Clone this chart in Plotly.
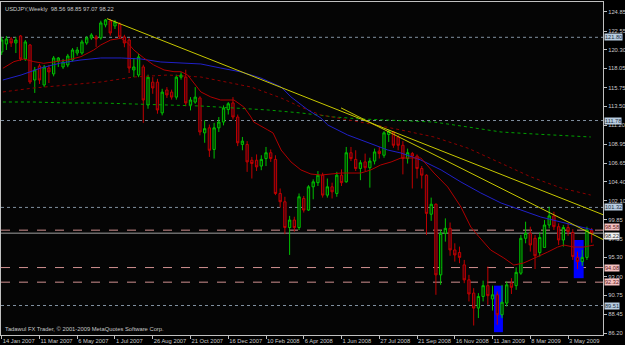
import plotly.graph_objects as go

# ---------------- data (weekly USDJPY, week index 0 = 14 Jan 2007) ----------------
weeks = list(range(126))
opens = [120.03,121.0,121.6,121.12,121.96,119.19,120.88,116.66,118.35,116.06,
         118.1,117.39,118.95,118.23,118.47,119.07,119.91,119.91,121.12,121.72,
         121.84,121.72,123.29,123.77,123.17,123.4,121.84,121.48,117.87,117.26,
         118.23,113.65,116.4,116.4,112.7,115.46,115.2,114.6,117.0,117.0,
         113.65,114.0,114.5,110.3,110.9,108.3,110.9,111.6,113.1,113.9,
         112.2,108.9,108.9,107.0,107.0,106.3,107.2,107.9,107.1,103.0,
         102.0,98.9,99.8,98.9,102.4,101.0,103.8,104.3,105.2,102.8,
         103.8,103.0,105.2,104.4,107.9,107.1,106.0,106.8,106.1,106.9,
         108.1,107.6,110.1,110.4,109.8,108.8,107.2,107.8,107.5,106.0,
         105.2,100.5,101.7,93.2,98.2,98.8,96.2,95.9,94.4,92.6,
         91.0,89.2,90.6,91.9,90.3,90.8,88.4,89.8,92.2,91.9,
         93.4,97.6,98.2,97.6,95.9,96.5,99.2,100.3,99.0,97.4,
         98.9,98.3,95.3,94.8,95.3,98.56]
highs = [121.84,121.96,121.84,121.84,122.08,121.48,121.0,118.23,118.6,118.47,
         118.47,119.55,119.43,119.2,119.8,120.5,120.64,121.5,121.96,122.3,
         122.08,123.8,124.0,124.0,123.9,123.6,122.1,121.7,119.3,119.8,
         118.5,117.3,117.0,116.8,115.6,115.8,115.5,117.3,117.6,117.9,
         114.6,115.8,114.7,111.8,111.3,111.5,112.2,113.6,114.0,114.6,
         112.5,109.8,109.3,107.4,107.7,107.6,108.6,108.3,107.6,103.6,
         102.6,100.3,100.2,103.0,102.7,104.0,104.7,105.7,105.5,104.8,
         104.3,105.6,105.9,108.6,108.6,108.2,107.0,107.8,107.3,108.4,
         108.6,110.5,110.67,110.5,110.0,109.3,108.4,108.0,107.7,106.3,
         105.3,102.5,101.8,98.6,100.0,99.5,97.0,96.6,95.0,93.2,
         91.6,91.0,92.5,94.2,91.9,91.2,92.0,92.4,92.8,94.1,
         98.0,99.6,99.0,98.0,98.3,99.8,101.4,100.8,99.4,99.2,
         99.4,98.7,96.0,96.2,99.0,98.85]
lows = [119.67,120.27,120.64,119.91,118.95,118.95,116.18,115.1,116.18,115.8,
        116.3,117.1,118.23,117.99,118.2,118.9,119.6,119.7,120.9,121.5,
        120.64,121.5,123.0,122.0,122.8,121.6,120.6,117.5,117.0,117.0,
        111.5,113.2,115.0,112.6,112.4,114.5,114.3,114.3,116.7,113.5,
        113.0,113.8,110.0,109.1,107.4,107.2,110.4,111.2,112.5,111.9,
        108.7,108.2,105.6,104.8,105.7,105.8,106.3,106.8,102.8,101.3,
        98.1,95.6,98.4,98.6,100.7,100.9,102.3,103.9,102.5,102.5,
        102.4,102.6,103.9,104.3,106.9,105.7,104.6,105.7,103.7,106.5,
        107.2,107.3,109.2,108.5,108.2,105.3,106.6,103.6,104.8,103.6,
        98.0,99.7,90.8,92.0,97.2,95.5,94.8,94.6,92.2,90.0,
        87.1,88.0,90.0,89.6,88.9,87.2,88.0,89.4,90.9,91.4,
        93.2,97.0,96.0,93.9,95.4,96.5,98.8,98.6,96.8,96.6,
        97.9,95.0,93.9,94.3,95.0,97.07]
closes = [121.48,121.6,121.12,121.48,119.19,121.24,116.42,117.87,116.66,118.23,
          117.63,119.31,119.31,118.83,119.55,120.27,120.27,121.24,121.72,122.08,
          121.6,123.53,123.89,122.32,123.65,121.84,121.12,118.1,118.23,119.43,
          114.25,117.0,115.7,113.05,115.2,114.86,114.6,117.0,117.26,113.9,
          114.25,114.6,110.4,110.8,108.2,110.9,111.6,113.3,113.8,112.2,
          109.1,109.3,106.8,106.6,106.2,107.1,107.9,107.2,103.0,102.0,
          98.9,99.8,98.9,102.6,101.0,103.8,104.4,105.2,102.8,103.8,
          103.2,105.2,104.3,107.9,107.2,106.0,106.7,106.1,106.9,108.0,
          107.8,110.3,110.5,108.8,108.8,107.2,107.9,107.5,106.0,105.2,
          100.6,101.7,93.2,98.2,98.8,96.2,95.6,95.3,92.6,90.9,
          89.2,90.6,91.9,90.7,90.8,88.4,89.9,92.0,91.7,93.5,
          97.6,98.2,96.8,95.5,97.7,99.2,100.3,99.0,97.4,98.9,
          98.4,95.4,94.8,95.3,98.6,98.22]

# moving averages (week index, price)
ma_red_x = [0.25,2.6,4.7,6.8,8.9,11.1,14,16.8,19.5,21,23.1,25.3,26.7,28,30.1,32.2,34.4,36.5,38,39.4,
            40.7,42.2,44.3,46.4,49.2,51.3,52.8,53.4,56.4,57.5,59.2,61.3,63.4,65.5,67.6,71.9,76.1,78.2,
            80.3,82.5,84.6,88.8,91.6,94.5,97.3,99.4,101.1,103.6,106.4,108.5,110.6,113.6,115.7,117.8,
            119.1,121.2,123.3,125.5]
ma_red_y = [118.07,118.87,119.19,118.87,118.67,118.87,119.07,119.47,120.27,120.88,121.48,121.68,121.12,
            120.27,119.31,118.47,117.87,117.66,117.66,117.26,116.3,115.22,114.62,114.25,114.25,113.41,
            112.21,111.6,110.64,110.28,108.23,106.79,105.83,105.34,105.22,105.46,105.46,105.83,106.43,
            106.79,107.27,107.27,105.46,103.78,101.37,98.96,97.8,96.19,95.23,94.38,94.63,95.35,95.95,
            96.55,96.79,96.55,96.55,96.79]
ma_blue_x = [0.25,4.1,8.3,12.5,16.8,21,25.3,29.5,33.7,38,42.2,46.4,50.7,54.9,59.2,61.3,64.9,67.6,69.1,
             73.3,77.6,81.8,84.6,88.8,93.1,97.3,101.5,105.8,110,114.2,118.5,122.7,125.3]
ma_blue_y = [116.66,117.26,118.1,118.71,119.07,119.31,119.31,119.19,118.83,118.71,118.59,118.1,117.63,
             116.9,115.82,114.62,113.05,112.09,111.24,110.04,109.08,108.23,107.87,107.03,105.83,104.38,
             103.06,101.85,101.01,100.17,99.56,98.96,98.6]
ma_maroon_x = [0.25,6.8,14,21,28,35.2,42.2,48.6,52.8,59.2,63.4,67.6,72.5,78.2,84.6,91.6,98.8,105.8,
               112.1,118.5,124.8]
ma_maroon_y = [115.22,115.7,116.06,116.42,117.02,117.26,117.02,116.3,115.82,114.49,113.41,112.45,111.97,
               111.36,110.64,109.8,108.45,106.6,105.0,103.66,102.81]
ma_green_x = [0.25,6.8,14,21,28,35.2,42.2,49.2,56.4,63.4,70.4,76.1,84.6,91.6,98.8,105.8,112.8,120,124.8]
ma_green_y = [114.01,114.01,113.89,113.89,113.77,113.65,113.53,113.29,113.05,112.69,112.21,111.97,111.73,
              111.6,111.0,110.4,110.16,109.92,109.8]

# trend lines (week index, price)
trend1_x = [22.3, 127.6]
trend1_y = [124.05, 100.4]
trend2_x = [71.9, 127.6]
trend2_y = [113.3, 97.4]

# horizontal levels
grey_levels = [121.80, 111.78, 101.32, 89.51]
pink_levels = [98.58, 94.08, 92.32]
bid_level = 98.22

# blue rectangles (week index / price)
rect_x0 = [104.3, 121.2]
rect_x1 = [106.2, 123.3]
rect_y0 = [86.3, 92.8]
rect_y1 = [91.9, 97.4]

y_ticks = [124.85,122.55,120.30,118.05,115.75,113.50,111.20,108.95,106.65,104.40,102.10,
           99.85,97.55,95.30,93.00,90.75,88.45,86.20]
x_tick_weeks = [0,8,16,24,32,40,48,56,64,72,80,88,96,104,112,120]
x_tick_labels = ["14 Jan 2007","11 Mar 2007","6 May 2007","1 Jul 2007","26 Aug 2007","21 Oct 2007",
                 "16 Dec 2007","10 Feb 2008","6 Apr 2008","1 Jun 2008","27 Jul 2008","21 Sep 2008",
                 "16 Nov 2008","11 Jan 2009","8 Mar 2009","3 May 2009"]

FONT = "Liberation Sans"
FG = "#c8c8c8"

fig = go.Figure()

fig.add_trace(go.Scatter(x=ma_green_x, y=ma_green_y, mode="lines",
                         line=dict(color="#00a000", width=1, dash="dot"), hoverinfo="skip"))
fig.add_trace(go.Scatter(x=ma_maroon_x, y=ma_maroon_y, mode="lines",
                         line=dict(color="#8b0000", width=1, dash="dot"), hoverinfo="skip"))
fig.add_trace(go.Scatter(x=ma_blue_x, y=ma_blue_y, mode="lines",
                         line=dict(color="#2020c8", width=1), hoverinfo="skip"))
fig.add_trace(go.Scatter(x=ma_red_x, y=ma_red_y, mode="lines",
                         line=dict(color="#b00000", width=1), hoverinfo="skip"))

fig.add_trace(go.Candlestick(
    x=weeks, open=opens, high=highs, low=lows, close=closes,
    increasing=dict(line=dict(color="#00c000", width=1), fillcolor="#003000"),
    decreasing=dict(line=dict(color="#c00000", width=1), fillcolor="#400010"),
    whiskerwidth=0, hoverinfo="skip"))

fig.add_trace(go.Scatter(x=trend1_x, y=trend1_y, mode="lines",
                         line=dict(color="#c8c800", width=1), hoverinfo="skip"))
fig.add_trace(go.Scatter(x=trend2_x, y=trend2_y, mode="lines",
                         line=dict(color="#c8c800", width=1), hoverinfo="skip"))

shapes = []
for a, b, c, d in zip(rect_x0, rect_x1, rect_y0, rect_y1):
    shapes.append(dict(type="rect", xref="x", yref="y", x0=a, x1=b, y0=c, y1=d,
                       fillcolor="#0000ff", line=dict(width=0), layer="below"))
for lv in grey_levels:
    shapes.append(dict(type="line", xref="paper", yref="y", x0=0, x1=1, y0=lv, y1=lv,
                       line=dict(color="#8090a0", width=1, dash="dot"), layer="below"))
for lv in pink_levels:
    shapes.append(dict(type="line", xref="paper", yref="y", x0=0, x1=1, y0=lv, y1=lv,
                       line=dict(color="#d09090", width=1, dash="dash"), layer="below"))
shapes.append(dict(type="line", xref="paper", yref="y", x0=0, x1=1, y0=bid_level, y1=bid_level,
                   line=dict(color="#a0a0a0", width=1), layer="below"))

annotations = []
for lv in grey_levels:
    annotations.append(dict(xref="paper", yref="y", x=1, y=lv, xanchor="left", yanchor="middle",
                            xshift=1, text=f"{lv:.2f}", showarrow=False, bgcolor="#b8cce0",
                            font=dict(family=FONT, size=5.6, color="#203040"), borderpad=0))
for lv in pink_levels:
    annotations.append(dict(xref="paper", yref="y", x=1, y=lv, xanchor="left",
                            yanchor="bottom" if lv == pink_levels[0] else "middle",
                            yshift=-1 if lv == pink_levels[0] else 0,
                            xshift=1, text=f"{lv:.2f}", showarrow=False, bgcolor="#f4c0c0",
                            font=dict(family=FONT, size=5.6, color="#602020"), borderpad=0))
annotations.append(dict(xref="paper", yref="y", x=1, y=bid_level, xanchor="left", yanchor="top",
                        xshift=1, yshift=1, text=f"{bid_level:.2f}", showarrow=False, bgcolor="#f0f0f0",
                        font=dict(family=FONT, size=5.6, color="#303030"), borderpad=0))
annotations.append(dict(xref="paper", yref="paper", x=0, y=1, xanchor="left", yanchor="top",
                        xshift=2, yshift=-2,
                        text="USDJPY,Weekly  98.56 98.85 97.07 98.22", showarrow=False,
                        font=dict(family=FONT, size=5.8, color=FG)))
annotations.append(dict(xref="paper", yref="paper", x=0, y=0, xanchor="left", yanchor="bottom",
                        xshift=2, yshift=1,
                        text="Tadawul FX Trader, \u00a9 2001-2009 MetaQuotes Software Corp.",
                        showarrow=False, font=dict(family=FONT, size=5.8, color=FG)))

fig.update_layout(
    width=625, height=345, autosize=False,
    margin=dict(l=1, r=22, t=2, b=10, autoexpand=False),
    paper_bgcolor="#000000", plot_bgcolor="#050505",
    showlegend=False,
    shapes=shapes, annotations=annotations,
    font=dict(family=FONT, size=5.8, color=FG),
    xaxis=dict(range=[-0.15, 127.4], tickvals=x_tick_weeks, ticktext=x_tick_labels,
               ticks="outside", ticklen=3, tickcolor="#c0c0c0", tickangle=0, automargin=False,
               ticklabelposition="outside right", showgrid=False, zeroline=False,
               showline=True, linecolor="#c0c0c0", mirror=True,
               rangeslider=dict(visible=False), tickfont=dict(size=5.8, color=FG)),
    yaxis=dict(range=[85.96, 126.05], side="right", tickvals=y_ticks, automargin=False,
               ticktext=[f"{v:.2f}" for v in y_ticks], ticks="outside", ticklen=3,
               tickcolor="#c0c0c0", showgrid=False, zeroline=False, showline=True,
               linecolor="#c0c0c0", mirror=True, tickfont=dict(size=5.8, color=FG)),
)

fig.write_html("out.html")
